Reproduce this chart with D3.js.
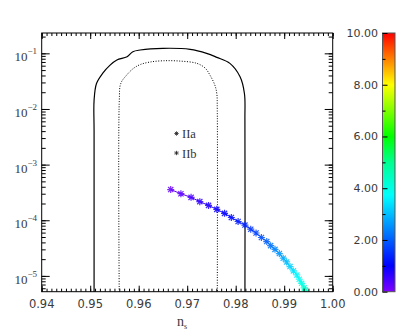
<!DOCTYPE html>
<html>
<head>
<meta charset="utf-8">
<script src="https://cdn.jsdelivr.net/npm/d3@7"></script>
<style>
  body { margin: 0; background: #fff; }
  text { font-family: "DejaVu Sans", sans-serif; fill: #3a3a3a; }
</style>
</head>
<body>
<div id="chart-area"></div>
<script>
// x tick values (n_s) and y decades (r)
var nsTicks = [0.94, 0.95, 0.96, 0.97, 0.98, 0.99, 1.00];
var rDecades = [-5, -4, -3, -2, -1];
var cbTicks = [0, 2, 4, 6, 8, 10];

// outer (solid) contour
var solidNs = [0.9508, 0.9508, 0.9508, 0.9513, 0.9526, 0.9541, 0.9555, 0.9576, 0.9588, 0.9603, 0.9650,
               0.9706, 0.9740, 0.9761, 0.9788, 0.9809, 0.9818, 0.9819, 0.9819];
var solidR  = [3e-6, 4e-3, 0.0143, 0.0287, 0.0441, 0.0615, 0.0757, 0.0869, 0.107, 0.1147, 0.123,
               0.118, 0.100, 0.0847, 0.066, 0.0379, 0.019, 0.00625, 3e-6];

// inner (dotted) contour
var dottedNs = [0.9560, 0.9560, 0.9563, 0.9575, 0.9589, 0.9603, 0.9623, 0.9650, 0.9685,
                0.9720, 0.9737, 0.9747, 0.9757, 0.9761, 0.9762, 0.9762];
var dottedR  = [3e-6, 0.0143, 0.0287, 0.0405, 0.0535, 0.0628, 0.0697, 0.0735, 0.0726,
                0.066, 0.0543, 0.0405, 0.0268, 0.019, 0.0095, 3e-6];

// model track: n_s, r and the colour-coded quantity
var modelNs = [0.9666, 0.9687, 0.9708, 0.9726, 0.9744, 0.9761, 0.9777, 0.9791, 0.9805, 0.9819,
               0.9831, 0.9842, 0.9853, 0.9864, 0.9872, 0.9881, 0.9890, 0.9898, 0.9905, 0.9912,
               0.9919, 0.9926, 0.9931, 0.9936, 0.9941, 0.9944];
var modelR  = [3.56e-4, 3.0e-4, 2.58e-4, 2.16e-4, 1.85e-4, 1.57e-4, 1.33e-4, 1.12e-4, 9.5e-5, 8.2e-5,
               6.9e-5, 5.9e-5, 4.9e-5, 4.14e-5, 3.5e-5, 3.0e-5, 2.52e-5, 2.08e-5, 1.78e-5, 1.47e-5,
               1.23e-5, 1.04e-5, 8.7e-6, 7.35e-6, 6.1e-6, 5.5e-6];
var modelC  = [0.2, 0.3, 0.45, 0.6, 0.75, 0.9, 1.0, 1.1, 1.25, 1.4,
               1.55, 1.7, 1.85, 2.0, 2.2, 2.4, 2.6, 2.8, 3.0, 3.2,
               3.4, 3.6, 3.8, 4.0, 4.2, 4.4];

var legendLabels = ["IIa", "IIb"];

var W = 415, H = 332;
var P = { left: 41.7, right: 332.7, top: 33, bottom: 291.7 };

var svg = d3.select("#chart-area").append("svg")
  .attr("width", W).attr("height", H);

var x = d3.scaleLinear().domain([0.94, 1.00]).range([P.left, P.right]);
var y = d3.scaleLog().domain([5.2e-6, 0.232]).range([P.bottom, P.top]);

var color = d3.scaleLinear()
  .domain([0, 1, 3.7, 5, 6, 8, 10])
  .range(["#8000ff", "#0000ff", "#00ffff", "#00ff90", "#00ff00", "#ffff00", "#ff0000"]);

svg.append("clipPath").attr("id", "clip")
  .append("rect").attr("x", P.left).attr("y", P.top)
  .attr("width", P.right - P.left).attr("height", P.bottom - P.top);

var plot = svg.append("g").attr("clip-path", "url(#clip)");

var line = d3.line().x(d => x(d[0])).y(d => y(d[1])).curve(d3.curveCatmullRom);

plot.append("path")
  .attr("d", line(d3.zip(solidNs, solidR)))
  .attr("fill", "none").attr("stroke", "#000").attr("stroke-width", 1.2);

plot.append("path")
  .attr("d", line(d3.zip(dottedNs, dottedR)))
  .attr("fill", "none").attr("stroke", "#000").attr("stroke-width", 1)
  .attr("stroke-dasharray", "1,1.6");

// model track
var pts = d3.zip(modelNs, modelR, modelC);
for (var i = 0; i < pts.length - 1; i++) {
  plot.append("line")
    .attr("x1", x(pts[i][0])).attr("y1", y(pts[i][1]))
    .attr("x2", x(pts[i + 1][0])).attr("y2", y(pts[i + 1][1]))
    .attr("stroke", color(pts[i][2])).attr("stroke-width", 1);
}
var star = "M-3.5,0H3.5M0,-3.5V3.5M-2.6,-2.6L2.6,2.6M-2.6,2.6L2.6,-2.6";
plot.selectAll(".star").data(pts).enter().append("path")
  .attr("class", "star")
  .attr("transform", d => `translate(${x(d[0])},${y(d[1])})`)
  .attr("d", star)
  .attr("stroke", d => color(d[2]))
  .attr("stroke-width", 1.2).attr("stroke-opacity", 0.85).attr("fill", "none");

// legend
var leg = svg.append("g");
legendLabels.forEach(function(lab, k) {
  var ly = 133.5 + k * 19.5;
  leg.append("path").attr("transform", `translate(176.5,${ly})`)
    .attr("d", "M-2.2,0H2.2M0,-2.2V2.2M-1.6,-1.6L1.6,1.6M-1.6,1.6L1.6,-1.6")
    .attr("stroke", "#222").attr("stroke-width", 0.8);
  leg.append("text").attr("x", 182).attr("y", ly + 4.5)
    .style("font-family", "'Liberation Serif', serif").style("font-size", "12.5px")
    .style("fill", "#333").text(lab);
});

// axes: inward ticks
var minorNs = d3.range(940, 1001).map(v => v / 1000);
function tickAxis(axis, tr, vals, size) {
  svg.append("g").attr("transform", tr)
    .call(axis.tickValues(vals).tickSize(size).tickFormat(""))
    .call(g => g.select(".domain").remove())
    .call(g => g.selectAll("line").attr("stroke", "#000"));
}
tickAxis(d3.axisBottom(x), `translate(0,${P.bottom})`, minorNs, -3);
tickAxis(d3.axisBottom(x), `translate(0,${P.bottom})`, nsTicks, -6);
tickAxis(d3.axisTop(x), `translate(0,${P.top})`, minorNs, -3);
tickAxis(d3.axisTop(x), `translate(0,${P.top})`, nsTicks, -6);

var minorR = [];
for (var e = -6; e <= -1; e++) for (var m = 1; m <= 9; m++) {
  var v = m * Math.pow(10, e);
  if (v >= 5.2e-6 && v <= 0.232) minorR.push(v);
}
var majorR = rDecades.map(d => Math.pow(10, d));
tickAxis(d3.axisLeft(y), `translate(${P.left},0)`, minorR, -4);
tickAxis(d3.axisLeft(y), `translate(${P.left},0)`, majorR, -8);
tickAxis(d3.axisRight(y), `translate(${P.right},0)`, minorR, -4);
tickAxis(d3.axisRight(y), `translate(${P.right},0)`, majorR, -8);

svg.append("rect").attr("x", P.left).attr("y", P.top)
  .attr("width", P.right - P.left).attr("height", P.bottom - P.top)
  .attr("fill", "none").attr("stroke", "#000").attr("stroke-width", 1);

// x labels
svg.selectAll(".xl").data(nsTicks).enter().append("text")
  .attr("x", d => x(d)).attr("y", 307.5)
  .attr("text-anchor", "middle").style("font-size", "11.5px")
  .text(d => d.toFixed(2));

// y labels 10^n
rDecades.forEach(function(d) {
  var t = svg.append("text").attr("x", 37).attr("y", y(Math.pow(10, d)) + 8)
    .attr("text-anchor", "end")
    .style("font-family", "'Liberation Serif', serif").style("font-size", "13px");
  t.append("tspan").text("10");
  t.append("tspan").attr("dy", -7).style("font-size", "9px").text("\u2212" + (-d));
});

// x title
var xt = svg.append("text").attr("x", 182).attr("y", 326)
  .attr("text-anchor", "middle")
  .style("font-family", "'Liberation Serif', serif").style("font-size", "14px");
xt.append("tspan").text("n");
xt.append("tspan").attr("dy", 3).style("font-size", "8px").text("s");

// colour bar
var cb = { x0: 382.5, x1: 395, y0: 33, y1: 291.7 };
var cy = d3.scaleLinear().domain([0, 10]).range([cb.y1, cb.y0]);
var grad = svg.append("defs").append("linearGradient").attr("id", "cbg")
  .attr("x1", 0).attr("y1", 1).attr("x2", 0).attr("y2", 0);
d3.range(0, 10.01, 0.25).forEach(function(v) {
  grad.append("stop").attr("offset", v / 10).attr("stop-color", color(v));
});
svg.append("rect").attr("x", cb.x0).attr("y", cb.y0)
  .attr("width", cb.x1 - cb.x0).attr("height", cb.y1 - cb.y0)
  .attr("fill", "url(#cbg)").attr("stroke", "#555").attr("stroke-width", 1);
svg.append("g").attr("transform", `translate(${cb.x0},0)`)
  .call(d3.axisLeft(cy).tickValues(d3.range(1, 10, 2)).tickSize(-3).tickFormat(""))
  .call(g => g.select(".domain").remove())
  .call(g => g.selectAll("line").attr("stroke", "#000"));
svg.append("g").attr("transform", `translate(${cb.x0},0)`)
  .call(d3.axisLeft(cy).tickValues(cbTicks).tickSize(-5).tickFormat(""))
  .call(g => g.select(".domain").remove())
  .call(g => g.selectAll("line").attr("stroke", "#000"));
svg.selectAll(".cl").data(cbTicks).enter().append("text")
  .attr("x", 378).attr("y", d => cy(d) + 4)
  .attr("text-anchor", "end").style("font-size", "11px")
  .text(d => d.toFixed(2));
</script>
</body>
</html>
